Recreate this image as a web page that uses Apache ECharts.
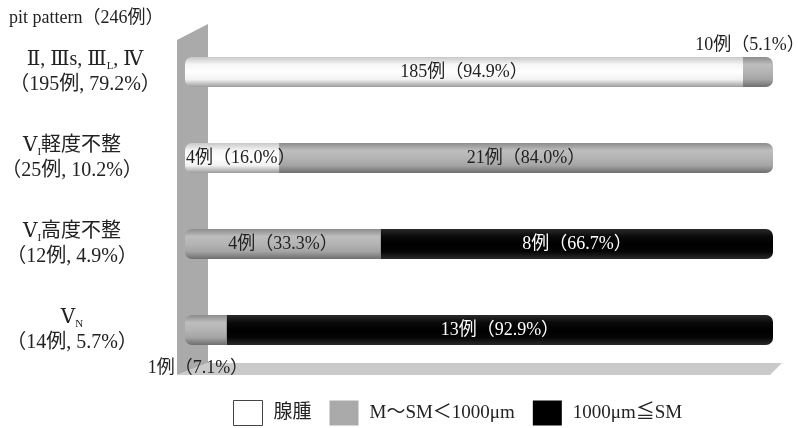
<!DOCTYPE html>
<html><head><meta charset="utf-8">
<script src="https://cdn.jsdelivr.net/npm/echarts@6/dist/echarts.min.js"></script>
<style>html,body{margin:0;padding:0;background:#fff}#c{width:798px;height:428px}</style>
</head><body><div id="c"></div>
<script>
// ---- data ----
const titleText = 'pit pattern（246例）';
const catLabels = ['Ⅱ, Ⅲs, Ⅲ{s|L}, Ⅳ', 'Ⅴ{s|I}軽度不整', 'Ⅴ{s|I}高度不整', 'Ⅴ{s|N}'];
const catCounts = [195, 25, 12, 14];
const catPcts = [79.2, 10.2, 4.9, 5.7];
const seriesNames = ['腺腫', 'M〜SM＜1000μm', '1000μm≦SM'];
const adenomaCounts = [185, 4, 0, 0];
const adenomaPcts = [94.9, 16.0, 0, 0];
const midCounts = [10, 21, 4, 1];
const midPcts = [5.1, 84.0, 33.3, 7.1];
const deepCounts = [0, 0, 8, 13];
const deepPcts = [0, 0, 66.7, 92.9];

const FONT = '"Liberation Serif", "DejaVu Serif", "Noto Sans CJK JP", serif';
const catShift = [0, 26, 26, 26];
const cats = catLabels.map((c, i) => ({
  value: c + '\n（' + catCounts[i] + '例, ' + catPcts[i].toFixed(1) + '%）',
  textStyle: {align: 'center', padding: [0, catShift[i], 0, 0]}
}));

function grad(stops) {
  return new echarts.graphic.LinearGradient(0, 0, 0, 1, stops.map((c, i) => ({offset: i / (stops.length - 1), color: c})));
}
const whiteFill = grad(['#c8c8c8', '#f6f6f6', '#ffffff', '#f2f2f2', '#9c9c9c']);
const grayFill = grad(['#8c8c8c', '#bdbdbd', '#b4b4b4', '#a4a4a4', '#6e6e6e']);
const blackFill = grad(['#2a2a2a', '#0a0a0a', '#000000', '#050505', '#2a2a2a']);

function makeData(pcts, counts, labelOpts, radius) {
  return pcts.map((v, i) => {
    const d = {value: v, count: counts[i]};
    const lo = labelOpts[i];
    if (v === 0) d.label = {show: false};
    else if (lo) d.label = lo;
    if (radius[i]) d.itemStyle = {borderRadius: radius[i]};
    return d;
  });
}
const fmt = p => p.data.count + '例（' + p.data.value.toFixed(1) + '%）';
const L = [7, 0, 0, 7], R = [0, 7, 7, 0];

const chart = echarts.init(document.getElementById('c'));
chart.setOption({
  animation: false,
  textStyle: {fontFamily: FONT},
  title: {text: titleText, left: 4, top: 4, textStyle: {fontFamily: FONT, fontSize: 18, fontWeight: 'normal', color: '#222'}},
  grid: {left: 185, right: 25, top: 29, bottom: 55, containLabel: false, outerBoundsMode: 'none'},
  xAxis: {type: 'value', min: 0, max: 100, show: false},
  yAxis: {
    type: 'category', data: cats, inverse: true,
    axisLine: {show: false}, axisTick: {show: false},
    axisLabel: {
      align: 'center', margin: 100, fontSize: 20, color: '#222', fontFamily: FONT, lineHeight: 25,
      rich: {s: {fontSize: 11, fontFamily: FONT, color: '#222', verticalAlign: 'bottom'}}
    }
  },
  legend: {
    left: 233, top: 400, padding: 0, itemWidth: 29, itemHeight: 25, itemGap: 18,
    icon: 'rect',
    textStyle: {fontFamily: FONT, fontSize: 19, color: '#222', padding: [0, 0, 0, 6]},
    data: [
      {name: seriesNames[0], itemStyle: {color: '#fff', borderColor: '#444', borderWidth: 1}},
      {name: seriesNames[1], itemStyle: {color: '#aaaaaa', borderWidth: 0}},
      {name: seriesNames[2], itemStyle: {color: '#000', borderWidth: 0}}
    ]
  },
  series: [
    {
      name: seriesNames[0], type: 'bar', stack: 't', barWidth: 30,
      itemStyle: {color: whiteFill},
      label: {show: true, position: 'inside', formatter: fmt, fontSize: 18, color: '#222', fontFamily: FONT},
      data: makeData(adenomaPcts, adenomaCounts, [null, {position: 'insideLeft', distance: 1}, null, null], [L, L, null, null])
    },
    {
      name: seriesNames[1], type: 'bar', stack: 't',
      itemStyle: {color: grayFill},
      label: {show: true, position: 'inside', formatter: fmt, fontSize: 18, color: '#222', fontFamily: FONT},
      data: makeData(midPcts, midCounts, [
        {position: 'top', distance: 3, offset: [-8, 0]}, null, null,
        {position: 'bottom', distance: 14, offset: [-8, 0]}
      ], [R, R, L, L])
    },
    {
      name: seriesNames[2], type: 'bar', stack: 't',
      itemStyle: {color: blackFill},
      label: {show: true, position: 'inside', formatter: fmt, fontSize: 18, color: '#fff', fontFamily: FONT},
      data: makeData(deepPcts, deepCounts, [null, null, null, null], [null, null, R, R])
    }
  ]
});

// decorative 3D wall and floor, positioned from the grid
const x0 = chart.convertToPixel({xAxisIndex: 0}, 0);
const x1 = chart.convertToPixel({xAxisIndex: 0}, 100);
const yTop = 24, yBot = 375;
chart.setOption({
  graphic: [
    {type: 'polygon', z: -10, shape: {points: [[x0 - 8, yTop + 16], [x0 + 23, yTop], [x0 + 23, yBot - 12], [x0 - 8, yBot]]}, style: {fill: '#aaaaaa'}},
    {type: 'polygon', z: -10, shape: {points: [[x0 + 23, yBot - 12], [x1 + 9, yBot - 12], [x1 - 3, yBot], [x0 - 8, yBot]]}, style: {fill: '#cacaca'}}
  ]
});
</script>
</body></html>
